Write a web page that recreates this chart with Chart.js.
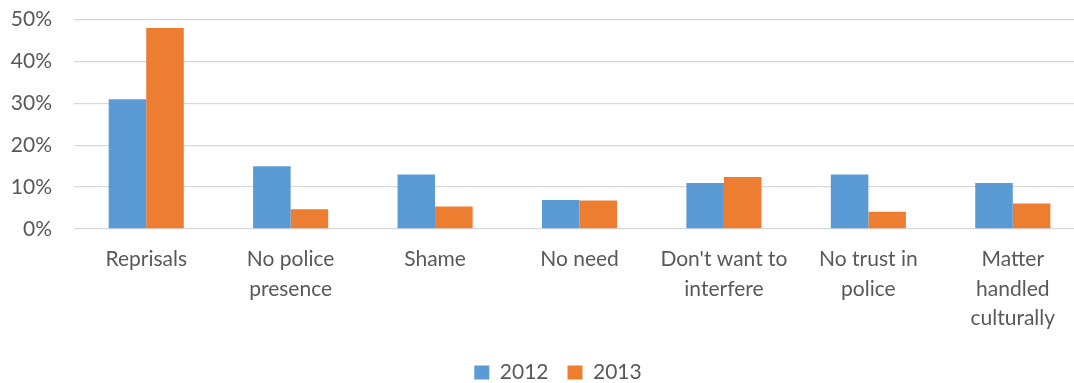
<!DOCTYPE html>
<html>
<head>
<meta charset="utf-8">
<script src="https://cdn.jsdelivr.net/npm/chart.js@4/dist/chart.umd.min.js"></script>
<style>
  html, body { margin: 0; padding: 0; background: #fff; }
  #wrap { width: 1074px; height: 383px; overflow: hidden; position: relative; }
  #box { width: 1116px; height: 408px; position: absolute; left: 0; top: -15px; }
</style>
</head>
<body>
<div id="wrap"><div id="box"><canvas id="c"></canvas></div></div>
<script>
// Reasons for not reporting, share of respondents
const categories = [
  'Reprisals',
  ['No police', 'presence'],
  'Shame',
  'No need',
  ["Don't want to", 'interfere'],
  ['No trust in', 'police'],
  ['Matter', 'handled', 'culturally']
];
const values2012 = [0.31, 0.15, 0.13, 0.069, 0.11, 0.13, 0.11];
const values2013 = [0.48, 0.047, 0.054, 0.068, 0.124, 0.041, 0.061];
const seriesNames = ['2012', '2013'];
const yTicks = [0, 0.1, 0.2, 0.3, 0.4, 0.5];

const FONT = 'Lato, "Open Sans", sans-serif';
const GREY = '#595959';

new Chart(document.getElementById('c'), {
  type: 'bar',
  data: {
    labels: categories,
    datasets: [
      { label: seriesNames[0], data: values2012, backgroundColor: '#5B9BD5',
        categoryPercentage: 0.52, barPercentage: 1.0 },
      { label: seriesNames[1], data: values2013, backgroundColor: '#ED7D31',
        categoryPercentage: 0.52, barPercentage: 1.0 }
    ]
  },
  options: {
    responsive: true,
    maintainAspectRatio: false,
    animation: false,
    layout: { padding: { top: 5, left: 0, right: 0, bottom: 0 } },
    plugins: {
      tooltip: { enabled: false },
      legend: {
        position: 'bottom',
        labels: {
          font: { family: FONT, size: 21 },
          color: GREY,
          boxWidth: 15,
          boxHeight: 14,
          padding: 19
        }
      }
    },
    scales: {
      x: {
        grid: { display: false },
        border: { display: false },
        ticks: {
          font: { family: FONT, size: 21, lineHeight: 1.4 },
          color: GREY,
          maxRotation: 0,
          autoSkip: false,
          padding: 8
        },
        afterFit(scale) { scale.height = 114; }
      },
      y: {
        min: 0,
        max: 0.5,
        afterBuildTicks(scale) { scale.ticks = yTicks.map(v => ({ value: v })); },
        grid: { color: '#d9d9d9', lineWidth: 1.3, drawTicks: false },
        border: { display: false },
        ticks: {
          font: { family: FONT, size: 21 },
          color: GREY,
          padding: 22,
          callback: v => Math.round(v * 100) + '%'
        },
        afterFit(scale) { scale.width = 74; }
      },
      // empty right-hand margin axis so the legend stays centred on the whole canvas
      yRight: {
        type: 'linear',
        position: 'right',
        min: 0,
        max: 0.5,
        grid: { display: false, drawOnChartArea: false },
        border: { display: false },
        ticks: { display: false },
        afterFit(scale) { scale.width = 31; }
      }
    }
  }
});
</script>
</body>
</html>
